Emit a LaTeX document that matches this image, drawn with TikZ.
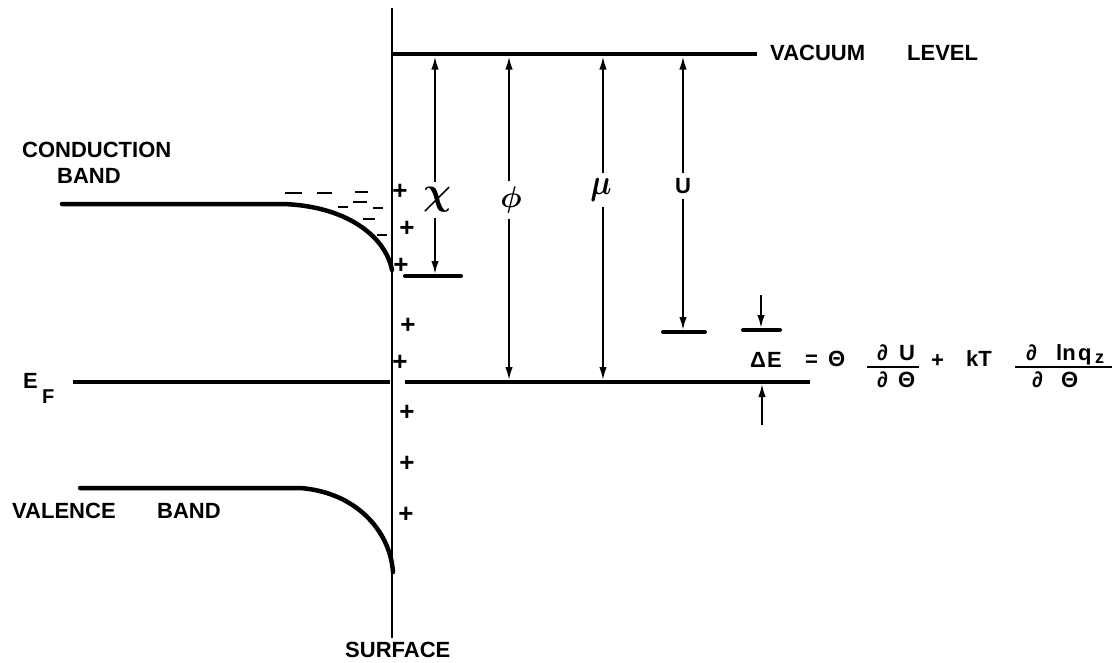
\documentclass[tikz,border=0pt]{standalone}
\usepackage{fontspec}
\usepackage{bm}
\setmainfont{Liberation Sans}
\newcommand{\lett}{\bfseries}
\usetikzlibrary{arrows.meta}
\begin{document}
\begin{tikzpicture}[x=1pt,y=-1pt,
  band/.style={line width=4.5pt,line cap=round},
  level/.style={line width=4pt},
  barline/.style={line width=4pt,line cap=round},
  arr/.style={line width=2pt,-{Latex[length=13pt,width=7.5pt]}},
  lbl/.style={font=\lett\fontsize{22}{22}\selectfont,inner sep=0pt,anchor=base west},
  frm/.style={font=\lett\fontsize{22}{22}\selectfont,inner sep=0pt,anchor=base west},
  sym/.style={inner xsep=0pt,inner ysep=5pt},
  plus/.style={font=\lett\fontsize{26}{26}\selectfont,inner sep=0pt},
  elec/.style={line width=2.3pt},
  fbar/.style={line width=2pt}]
\useasboundingbox (0,0) rectangle (1117,662);
% surface
\coordinate (stop) at (392,8);
\coordinate (sbot) at (392,638);
\draw[line width=2.5pt] (stop) -- (sbot);
\node[lbl] (surf) at (345,657) {SURFACE};
% vacuum level
\coordinate (v0) at (392,54);
\coordinate (v1) at (757,54);
\draw[level] (v0) -- (v1);
\node[lbl] (vac) at (770,60) {VACUUM};
\node[lbl] (lev) at (907,60) {LEVEL};
% conduction band
\coordinate (c0) at (62,204);
\coordinate (c1) at (283,204);
\coordinate (c2) at (392,270);
\draw[band] (c0) -- (c1) .. controls (345,206) and (385,235) .. (c2);
\node[lbl] (cond) at (22,157) {CONDUCTION};
\node[lbl] (cband) at (57,183) {BAND};
% valence band
\coordinate (b0) at (80,488);
\coordinate (b1) at (300,488);
\coordinate (b2) at (393,572);
\draw[band] (b0) -- (b1) .. controls (355,492) and (390,530) .. (b2);
\node[lbl] (val) at (12,518) {VALENCE};
\node[lbl] (vband) at (157,518) {BAND};
% Fermi level
\coordinate (f0) at (73,382);
\coordinate (f1) at (390,382);
\coordinate (f2) at (405,382);
\coordinate (f3) at (810,382);
\draw[level] (f0) -- (f1);
\draw[level] (f2) -- (f3);
\node[lbl] (E) at (23,388) {E};
\node[lbl,font=\lett\fontsize{20}{20}\selectfont] (F) at (42,403) {F};
% electrons
\foreach \xa/\xb/\yy in {285/302/193, 317/332/193, 355/368/192, 338/348/207, 353/367/202, 373/383/208, 363/375/219, 377/387/235}
  \draw[elec] (\xa,\yy) -- (\xb,\yy);
% positive charges
\foreach \px/\py [count=\i] in {400/192, 407/229, 401/266, 408/326, 400/363, 407/413, 407/464, 406/515}
  \node[plus] (p\i) at (\px,\py) {+};
% bars
\coordinate (xb0) at (405,276); \coordinate (xb1) at (461,276);
\draw[barline] (xb0) -- (xb1);
\coordinate (ub0) at (663,332); \coordinate (ub1) at (705,332);
\draw[barline] (ub0) -- (ub1);
\coordinate (eb0) at (743,330); \coordinate (eb1) at (780,330);
\draw[barline] (eb0) -- (eb1);
% chi
\coordinate (chit) at (435,56.5);
\coordinate (chib) at (435,274);
\node[sym] (chi) at (437,200) {\scalebox{3.9}{$\bm{\chi}$}};
\draw[arr] (chi.north -| chit) -- (chit);
\draw[arr] (chi.south -| chit) -- (chib);
% phi
\coordinate (phit) at (509,56.5);
\coordinate (phib) at (509,380);
\node[sym] (phi) at (511,200) {\scalebox{3}{$\bm{\phi}$}};
\draw[arr] (phi.north -| phit) -- (phit);
\draw[arr] (phi.south -| phit) -- (phib);
% mu
\coordinate (mut) at (603,56.5);
\coordinate (mub) at (603,380);
\node[sym] (mu) at (601,190) {\scalebox{3}[3.6]{$\bm{\mu}$}};
\draw[arr] (mu.north -| mut) -- (mut);
\draw[arr] (mu.south -| mut) -- (mub);
% U
\coordinate (ut) at (683,56.5);
\coordinate (ub) at (683,330);
\node[sym,font=\lett\fontsize{22}{22}\selectfont] (U) at (683,186) {U};
\draw[arr] (U.north) -- (ut);
\draw[arr] (U.south) -- (ub);
% Delta E arrows
\coordinate (dt0) at (761,295);
\coordinate (dt1) at (761,328);
\draw[arr] (dt0) -- (dt1);
\coordinate (db0) at (762,425);
\coordinate (db1) at (762,384);
\draw[arr] (db0) -- (db1);
% formula
\node[frm] (dE) at (750,367) {Δ\hspace{1pt}E};
\node[frm] (eq) at (805,366) {=};
\node[frm] (th) at (828,366) {Θ};
\node[frm] (n1a) at (877,360) {∂};
\node[frm] (n1b) at (899,360) {U};
\coordinate (fa0) at (867,367); \coordinate (fa1) at (919,367);
\draw[fbar] (fa0) -- (fa1);
\node[frm] (d1a) at (877,387) {∂};
\node[frm] (d1b) at (898,387) {Θ};
\node[frm] (pl) at (931,367) {+};
\node[frm] (kT) at (966,366) {kT};
\node[frm] (n2a) at (1026,360) {∂};
\node[frm] (n2b) at (1056,360) {ln};
\node[frm] (n2c) at (1078,360) {q};
\node[frm,font=\lett\fontsize{18}{18}\selectfont] (z) at (1095,363) {z};
\coordinate (fb0) at (1015,367); \coordinate (fb1) at (1112,367);
\draw[fbar] (fb0) -- (fb1);
\node[frm] (d2a) at (1032,387) {∂};
\node[frm] (d2b) at (1061,387) {Θ};
\end{tikzpicture}
\end{document}
